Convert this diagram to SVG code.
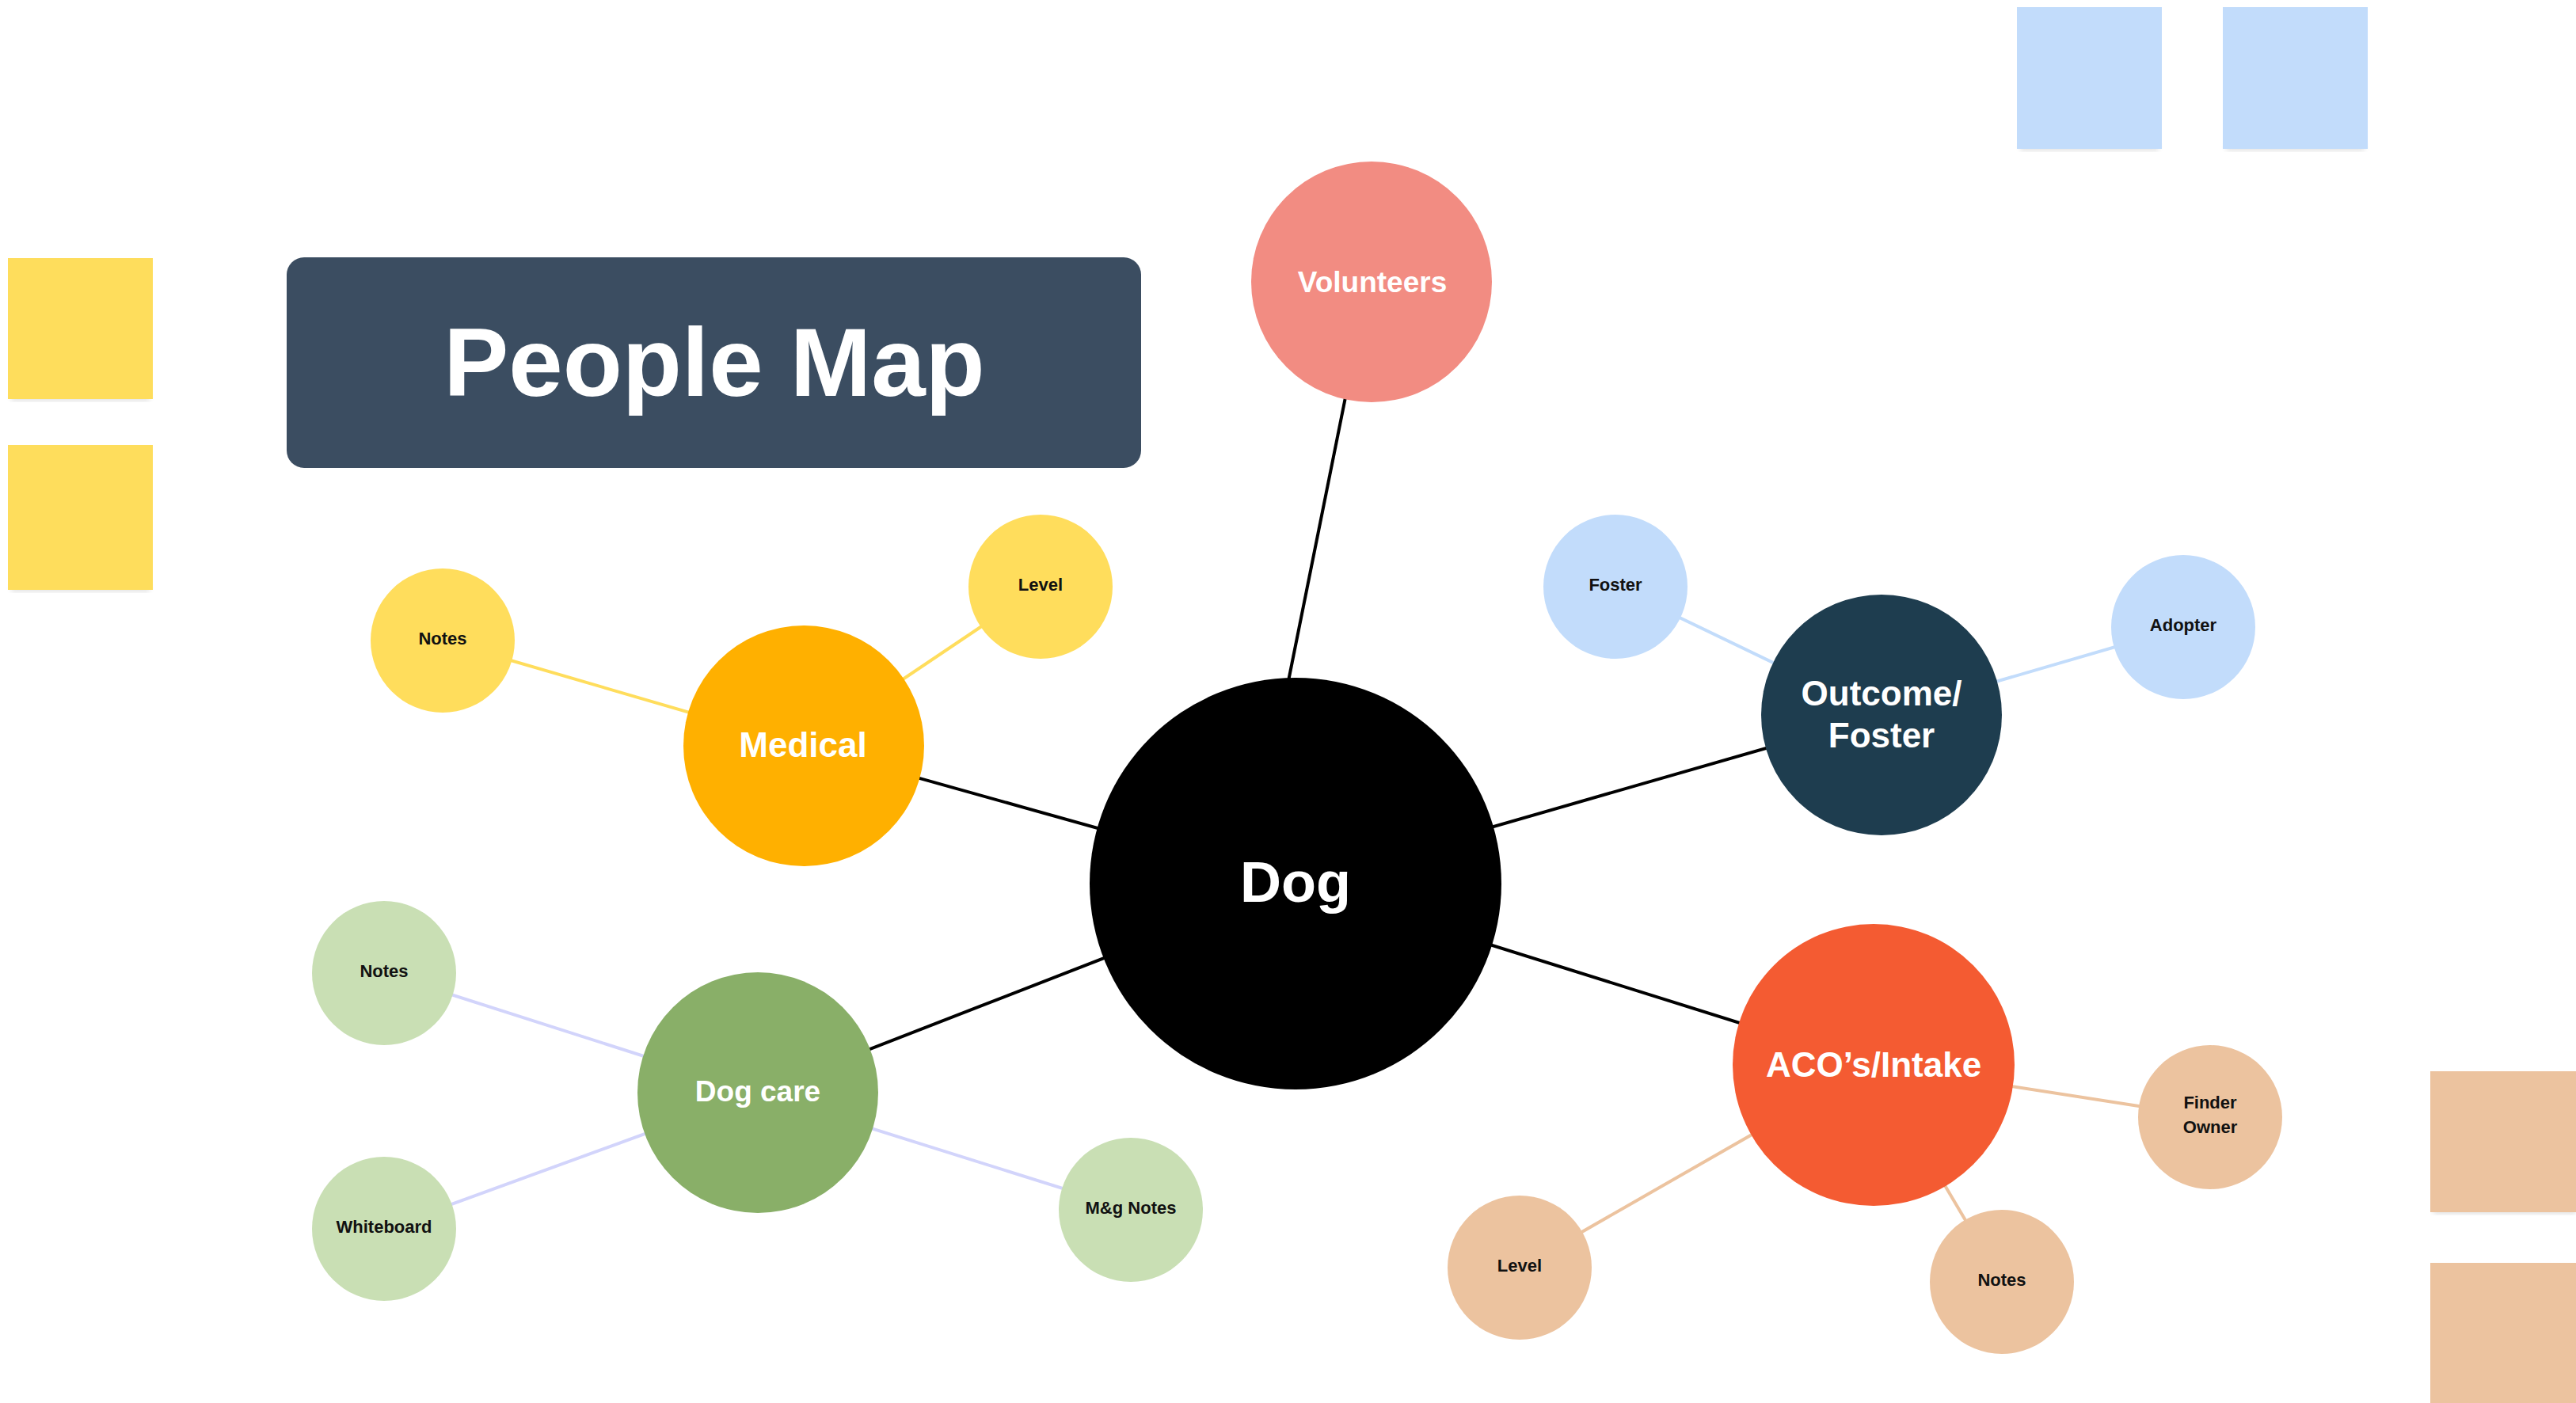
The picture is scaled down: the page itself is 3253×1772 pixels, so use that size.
<svg xmlns="http://www.w3.org/2000/svg" width="3253" height="1772" viewBox="0 0 3253 1772">
<defs>
<filter id="sh" x="-10%" y="-10%" width="120%" height="130%"><feGaussianBlur stdDeviation="3"/></filter>
</defs>
<style>
.big{font-family:"Liberation Sans",Arial,sans-serif;font-weight:bold;fill:#ffffff;text-anchor:middle}
.small{font-family:"Liberation Sans",Arial,sans-serif;font-weight:bold;fill:#111111;text-anchor:middle;font-size:22px}
.blk{stroke:#000000;stroke-width:4;fill:none}
.yl{stroke:#FFDD5C;stroke-width:4;fill:none}
.bl{stroke:#C2DCFB;stroke-width:4;fill:none}
.lv{stroke:#D2D4FB;stroke-width:4;fill:none}
.tn{stroke:#ECC39F;stroke-width:4;fill:none}
.shd{fill:#000000;opacity:0.12;filter:url(#sh)}
</style>
<rect x="0" y="0" width="3253" height="1772" fill="#ffffff"/>

<g id="stickies">
  <rect class="shd" x="14" y="498" width="175" height="8"/>
  <rect x="10" y="326" width="183" height="178" fill="#FEDD5C"/>
  <rect class="shd" x="14" y="739" width="175" height="8"/>
  <rect x="10" y="562" width="183" height="183" fill="#FEDD5C"/>
  <rect class="shd" x="2551" y="182" width="175" height="8"/>
  <rect x="2547" y="9" width="183" height="179" fill="#C2DCFB"/>
  <rect class="shd" x="2811" y="182" width="175" height="8"/>
  <rect x="2807" y="9" width="183" height="179" fill="#C2DCFB"/>
  <rect class="shd" x="3073" y="1525" width="180" height="8"/>
  <rect x="3069" y="1353" width="184" height="178" fill="#ECC39F"/>
  <rect x="3069" y="1595" width="184" height="177" fill="#ECC39F"/>
</g>

<g id="title">
  <rect x="362" y="325" width="1079" height="266" rx="22" ry="22" fill="#3B4D61"/>
  <text class="big" x="902" y="500" font-size="123">People Map</text>
</g>

<g id="connectors">
  <line class="blk" x1="1701" y1="492" x2="1625" y2="870"/>
  <line class="blk" x1="1015" y1="942" x2="1636" y2="1116"/>
  <line class="blk" x1="957" y1="1380" x2="1636" y2="1116"/>
  <line class="blk" x1="2376" y1="903" x2="1636" y2="1116"/>
  <line class="blk" x1="2366" y1="1345" x2="1636" y2="1116"/>
  <line class="yl" x1="1015" y1="942" x2="1314" y2="741"/>
  <line class="yl" x1="1015" y1="942" x2="559" y2="809"/>
  <line class="bl" x1="2376" y1="903" x2="2040" y2="741"/>
  <line class="bl" x1="2376" y1="903" x2="2757" y2="792"/>
  <line class="lv" x1="957" y1="1380" x2="485" y2="1229"/>
  <line class="lv" x1="957" y1="1380" x2="485" y2="1552"/>
  <line class="lv" x1="957" y1="1380" x2="1428" y2="1528"/>
  <line class="tn" x1="2366" y1="1345" x2="2791" y2="1411"/>
  <line class="tn" x1="2366" y1="1345" x2="2528" y2="1619"/>
  <line class="tn" x1="2366" y1="1345" x2="1919" y2="1601"/>
</g>

<g id="dog">
  <circle cx="1636" cy="1116" r="260" fill="#000000"/>
  <text class="big" x="1636" y="1139" font-size="72">Dog</text>
</g>
<g id="volunteers">
  <circle cx="1732" cy="356" r="152" fill="#F28C82"/>
  <text class="big" x="1733" y="369" font-size="37">Volunteers</text>
</g>
<g id="medical">
  <circle cx="1015" cy="942" r="152" fill="#FFB000"/>
  <text class="big" x="1014" y="956" font-size="44">Medical</text>
</g>
<g id="medical-level">
  <circle cx="1314" cy="741" r="91" fill="#FFDD5C"/>
  <text class="small" x="1314" y="746">Level</text>
</g>
<g id="medical-notes">
  <circle cx="559" cy="809" r="91" fill="#FFDD5C"/>
  <text class="small" x="559" y="814">Notes</text>
</g>
<g id="outcome">
  <circle cx="2376" cy="903" r="152" fill="#1E3D4F"/>
  <text class="big" x="2376" y="891" font-size="44">Outcome/</text>
  <text class="big" x="2376" y="944" font-size="44">Foster</text>
</g>
<g id="foster">
  <circle cx="2040" cy="741" r="91" fill="#C2DCFB"/>
  <text class="small" x="2040" y="746">Foster</text>
</g>
<g id="adopter">
  <circle cx="2757" cy="792" r="91" fill="#C2DCFB"/>
  <text class="small" x="2757" y="797">Adopter</text>
</g>
<g id="dogcare">
  <circle cx="957" cy="1380" r="152" fill="#89AF68"/>
  <text class="big" x="957" y="1391" font-size="37">Dog care</text>
</g>
<g id="dogcare-notes">
  <circle cx="485" cy="1229" r="91" fill="#C9DFB4"/>
  <text class="small" x="485" y="1234">Notes</text>
</g>
<g id="whiteboard">
  <circle cx="485" cy="1552" r="91" fill="#C9DFB4"/>
  <text class="small" x="485" y="1557">Whiteboard</text>
</g>
<g id="mg-notes">
  <circle cx="1428" cy="1528" r="91" fill="#C9DFB4"/>
  <text class="small" x="1428" y="1533">M&amp;g Notes</text>
</g>
<g id="aco">
  <circle cx="2366" cy="1345" r="178" fill="#F45B32"/>
  <text class="big" x="2366" y="1360" font-size="44">ACO’s/Intake</text>
</g>
<g id="finder-owner">
  <circle cx="2791" cy="1411" r="91" fill="#ECC39F"/>
  <text class="small" x="2791" y="1400">Finder</text>
  <text class="small" x="2791" y="1431">Owner</text>
</g>
<g id="aco-notes">
  <circle cx="2528" cy="1619" r="91" fill="#ECC39F"/>
  <text class="small" x="2528" y="1624">Notes</text>
</g>
<g id="aco-level">
  <circle cx="1919" cy="1601" r="91" fill="#ECC39F"/>
  <text class="small" x="1919" y="1606">Level</text>
</g>
</svg>
